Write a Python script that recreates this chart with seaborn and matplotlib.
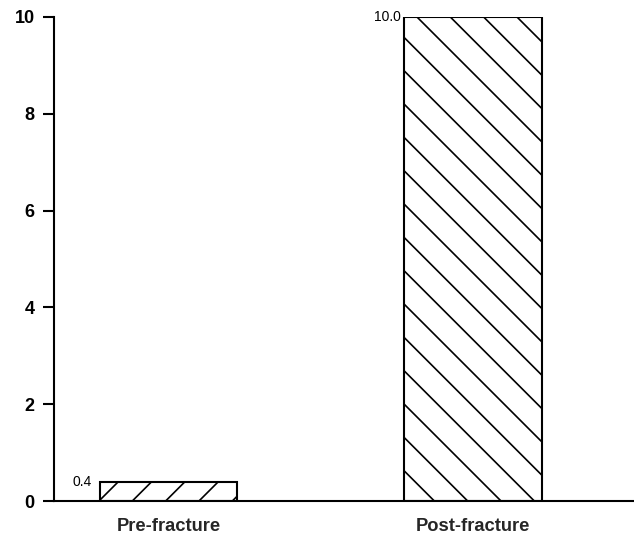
import matplotlib
matplotlib.use("Agg")
import matplotlib.pyplot as plt
import seaborn as sns
import pandas as pd

categories = ["Pre-fracture", "Post-fracture"]
values = [0.4, 10.0]
value_labels = ["0.4", "10.0"]
hatches = ["//", "\\\\"]
label_offsets = [-2.9, -1.2]
yticks = [0, 2, 4, 6, 8, 10]

sns.set_theme(style="ticks")
plt.rcParams["font.family"] = ["Liberation Sans", "DejaVu Sans"]
plt.rcParams["hatch.linewidth"] = 0.6

DPI = 200
W, H = 634, 539
fig = plt.figure(figsize=(W / DPI, H / DPI), dpi=DPI)
ax = fig.add_axes([54 / W, 1 - 501 / H, 1 - 54 / W, (501 - 17) / H])

df = pd.DataFrame({"cat": categories, "val": values})
sns.barplot(data=df, x="cat", y="val", ax=ax, color="white", edgecolor="black",
            linewidth=0.75, width=0.453, saturation=1)

for patch, h in zip(ax.patches, hatches):
    patch.set_hatch(h)
    patch.set_facecolor("white")
    patch.set_edgecolor("black")

for patch, lab, off in zip(ax.patches, value_labels, label_offsets):
    ax.annotate(lab, xy=(patch.get_x(), patch.get_height()), xytext=(off, 0),
                textcoords="offset points", ha="right", va="center", fontsize=5.0,
                color="black")

ax.set_xlim(-0.376, 1.529)
ax.set_ylim(0, 10)
ax.set_yticks(yticks)
ax.set_yticklabels([str(t) for t in yticks], fontsize=6.5, fontweight="bold")
ax.tick_params(axis="y", length=4, width=0.75, pad=3, colors="black")
ax.tick_params(axis="x", length=0, pad=6)
for lab in ax.get_xticklabels():
    lab.set_fontsize(6.6)
    lab.set_fontweight("bold")
ax.set_xlabel("")
ax.set_ylabel("")
for s in ["top", "right"]:
    ax.spines[s].set_visible(False)
for s in ["left", "bottom"]:
    ax.spines[s].set_linewidth(0.75)
    ax.spines[s].set_color("black")

fig.savefig("out.png", dpi=DPI, facecolor="white")
